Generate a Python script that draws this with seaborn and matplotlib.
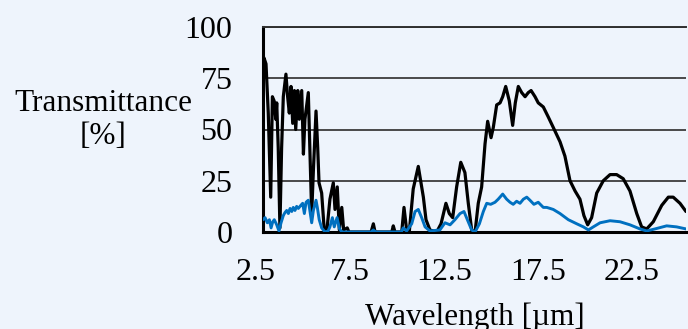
import numpy as np
import pandas as pd
import seaborn as sns
import matplotlib.pyplot as plt
from matplotlib.transforms import ScaledTranslation

# black curve: wavelength [um] and transmittance [%]
wl_black = [2.50, 2.55, 2.66, 2.78, 2.91, 3.00, 3.09, 3.18, 3.23, 3.31, 3.40, 3.49, 3.58,
            3.72, 3.81, 3.90, 3.99, 4.08, 4.17, 4.24, 4.35, 4.43, 4.56, 4.65, 4.73, 4.91,
            5.00, 5.09, 5.18, 5.32, 5.41, 5.48, 5.62, 5.75, 5.89, 6.06, 6.24, 6.33, 6.45,
            6.56, 6.69, 6.79, 6.98, 7.07, 7.60, 8.25, 8.37, 8.46, 9.35, 9.43, 9.52, 9.88,
            10.00, 10.14, 10.28, 10.49, 10.76, 11.03, 11.17, 11.38, 11.74, 11.97, 12.23,
            12.41, 12.59, 12.80, 13.02, 13.24, 13.42, 13.60, 13.78, 13.95, 14.13, 14.31,
            14.45, 14.63, 14.75, 14.93, 15.11, 15.25, 15.41, 15.60, 15.78, 15.92, 16.08,
            16.26, 16.44, 16.61, 16.76, 16.97, 17.14, 17.41, 17.68, 17.94, 18.30, 18.56,
            18.83, 19.10, 19.36, 19.57, 19.77, 19.98, 20.25, 20.60, 20.96, 21.31, 21.66,
            22.02, 22.38, 22.64, 22.91, 23.26, 23.71, 24.06, 24.32, 24.68, 25.00]
tr_black = [84, 85, 82, 58, 17, 66, 64, 55, 63, 41, 2, 41, 66,
            77, 66, 58, 71, 53, 69, 50, 69, 55, 69, 38, 55, 68,
            38, 9, 30, 59, 41, 24, 19, 2, 0, 16, 24, 11, 22,
            1, 12, 1, 2, 0, 0, 0, 4, 0, 0, 3, 0, 0,
            12, 1, 0, 21, 32, 17, 6, 1, 0, 4, 14,
            9, 7, 22, 34, 29, 14, 1, 0, 14, 22, 43,
            54, 46, 51, 62, 63, 66, 71, 64, 52, 63, 71,
            68, 66, 68, 69, 66, 63, 61, 56, 51, 44, 37,
            25, 20, 16, 8, 3.5, 7, 19, 25, 28, 28, 26,
            20, 9, 2.5, 1.5, 5, 13, 17, 17, 14, 10]

# blue curve
wl_blue = [2.50, 2.61, 2.73, 2.84, 2.93, 3.02, 3.10, 3.23, 3.35, 3.46, 3.58, 3.67, 3.76,
           3.85, 3.94, 4.03, 4.11, 4.20, 4.29, 4.38, 4.51, 4.61, 4.70, 4.79, 4.91, 5.00,
           5.09, 5.18, 5.32, 5.39, 5.49, 5.62, 5.80, 5.96, 6.06, 6.19, 6.29, 6.44, 6.57,
           6.70, 8.25, 8.37, 8.50, 9.85, 9.96, 10.14, 10.41, 10.59, 10.76, 10.94, 11.12,
           11.38, 11.91, 12.18, 12.45, 12.71, 12.98, 13.19, 13.37, 13.60, 13.78, 14.01,
           14.22, 14.40, 14.61, 14.84, 15.01, 15.25, 15.46, 15.64, 15.81, 15.99, 16.17,
           16.35, 16.53, 16.70, 16.91, 17.14, 17.41, 17.59, 17.77, 17.94, 18.30, 18.74,
           19.19, 19.54, 19.81, 20.07, 20.43, 20.96, 21.49, 22.02, 22.55, 22.91, 23.35,
           23.97, 24.50, 25.00]
tr_blue = [6, 7, 4.5, 6, 2, 5, 6, 3.5, 0.5, 4.5, 8, 9.5, 10.5,
           9, 11.5, 10, 12, 10.5, 12.5, 11.5, 13, 14, 9, 14.5, 15.5, 10,
           4.5, 10.5, 15.5, 12, 6, 2, 0, 0.5, 2.5, 7, 2.5, 7, 1.5,
           0, 0, 1, 0, 0, 2, 0.5, 4, 10, 11, 7, 2.5,
           0.5, 1, 4.5, 3.5, 6, 9, 10, 6, 1, 0, 4,
           10, 14, 13.5, 14.5, 16, 18.5, 16, 14.5, 13.5, 15, 14,
           16, 17, 15.5, 13.5, 14.5, 12, 12, 11.5, 11, 9, 6,
           4, 2.5, 1, 2.5, 4.5, 5.5, 5, 3.5, 1.5, 0.5, 1.5,
           3, 2.5, 1.5]

x_ticks = [2.5, 7.5, 12.5, 17.5, 22.5]
y_ticks = [0, 25, 50, 75, 100]

bg = "#EEF4FC"
sns.set_style("white")
plt.rcParams['font.family'] = ['Liberation Serif', 'DejaVu Serif']

fig = plt.figure(figsize=(6.88, 3.29), dpi=100, facecolor=bg)
ax = fig.add_axes([263 / 688, 1 - 232 / 329, (686 - 263) / 688, (232 - 27) / 329])
ax.set_facecolor(bg)

black = pd.DataFrame({"wl": wl_black, "tr": tr_black})
blue = pd.DataFrame({"wl": wl_blue, "tr": tr_blue})
sns.lineplot(data=black, x="wl", y="tr", color="black", lw=2.3, ax=ax, zorder=3)
sns.lineplot(data=blue, x="wl", y="tr", color="#0070C0", lw=2.1, ax=ax, zorder=4)

ax.set_xlim(2.5, 25)
ax.set_ylim(0, 100)
ax.set_xticks(x_ticks)
ax.set_yticks(y_ticks)
ax.set_xlabel("")
ax.set_ylabel("")
ax.yaxis.grid(True, color="#3c3c3c", lw=1.3)
ax.set_axisbelow(True)

ax.spines["right"].set_visible(False)
ax.spines["top"].set_color("#303030")
ax.spines["top"].set_linewidth(1.4)
ax.spines["left"].set_color("black")
ax.spines["left"].set_linewidth(2.2)
ax.spines["bottom"].set_color("black")
ax.spines["bottom"].set_linewidth(2.2)

ax.tick_params(axis="x", direction="in", length=7, width=1, color="#808080", pad=19)
ax.tick_params(axis="y", length=0, pad=22)
for lab in ax.get_xticklabels() + ax.get_yticklabels():
    lab.set_fontsize(23)
    lab.set_color("black")
shift = ScaledTranslation(-7 / 100, 0, fig.dpi_scale_trans)
for lab in ax.get_xticklabels():
    lab.set_transform(lab.get_transform() + shift)

fig.text(103 / 688, 1 - 120 / 329, "Transmittance\n[%]", ha="center", va="center",
         multialignment="center", fontsize=22.5, linespacing=1.15, color="black")
fig.text(475 / 688, 1 - 325 / 329, "Wavelength [µm]", ha="center", va="baseline",
         fontsize=22.5, color="black")

fig.savefig("out.png", dpi=100, facecolor=bg)
